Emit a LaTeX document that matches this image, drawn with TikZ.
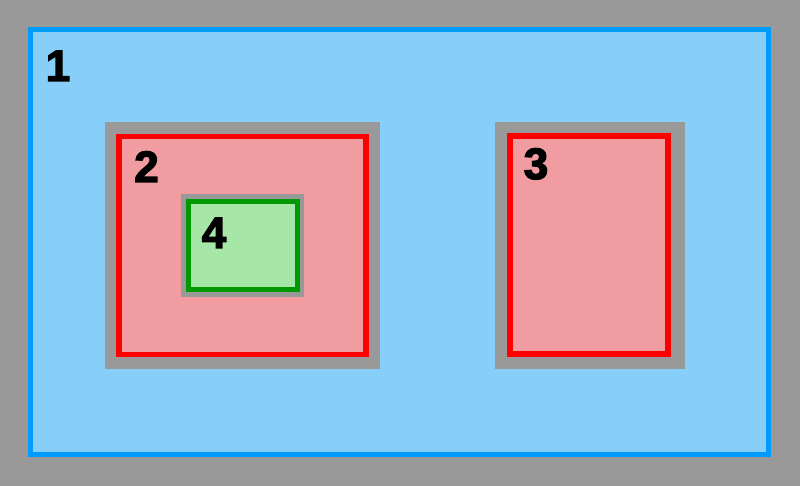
\documentclass[tikz,border=0pt]{standalone}
\usepackage{fontspec}
\setmainfont{Liberation Sans}
\newfontfamily\heavyfont{Liberation Sans}[FakeBold=3]
\definecolor{frameGray}{HTML}{999999}
\definecolor{skyFill}{HTML}{87CEF8}
\definecolor{skyLine}{HTML}{009BFF}
\definecolor{pinkFill}{HTML}{F09CA0}
\definecolor{greenFill}{HTML}{A6E6A6}
\definecolor{greenLine}{HTML}{009900}
\begin{document}
\begin{tikzpicture}[
    % 定義樣式
    x=1pt, y=-1pt,
    frame/.style={rectangle, fill=frameGray, inner sep=0pt},
    region/.style={rectangle, line width=5pt, inner sep=0pt},
    outer region/.style={region, draw=skyLine, fill=skyFill},
    red region/.style={region, line width=5.5pt, draw=red, fill=pinkFill},
    green region/.style={region, draw=greenLine, fill=greenFill},
    annot/.style={font=\fontsize{44}{54}\heavyfont\bfseries, anchor=base, inner sep=0pt}
]

    % --- 0. 背景 ---
    \fill[frameGray] (0,0) rectangle (800,486);
    \useasboundingbox (0,0) rectangle (800,486);

    % --- 1. 外層區域 ---
    \node[outer region, minimum width=738pt, minimum height=425pt] (R-1) at (399.5,242) {};

    % --- 2. 區域 2 與區域 3 (灰框 + 紅框) ---
    \node[frame, minimum width=275pt, minimum height=247pt] (F-2) at (242.5,245.5) {};
    \node[red region, minimum width=247pt, minimum height=218pt] (R-2) at (F-2) {};
    \node[frame, minimum width=190pt, minimum height=247pt] (F-3) at (590,245.5) {};
    \node[red region, minimum width=158pt, minimum height=218pt] (R-3) at (589,245) {};

    % --- 3. 區域 4 (在區域 2 內) ---
    \node[frame, minimum width=123pt, minimum height=102pt] (F-4) at (R-2) {};
    \node[green region, minimum width=109pt, minimum height=87pt] (R-4) at (F-4) {};

    % --- 4. 加上標籤 (Labels) ---
    \node[annot] (L-1) at (58,81) {1};
    \node[annot] (L-2) at (146.5,182) {2};
    \node[annot] (L-3) at (536,179) {3};
    \node[annot] (L-4) at (214,248) {4};

\end{tikzpicture}
\end{document}
